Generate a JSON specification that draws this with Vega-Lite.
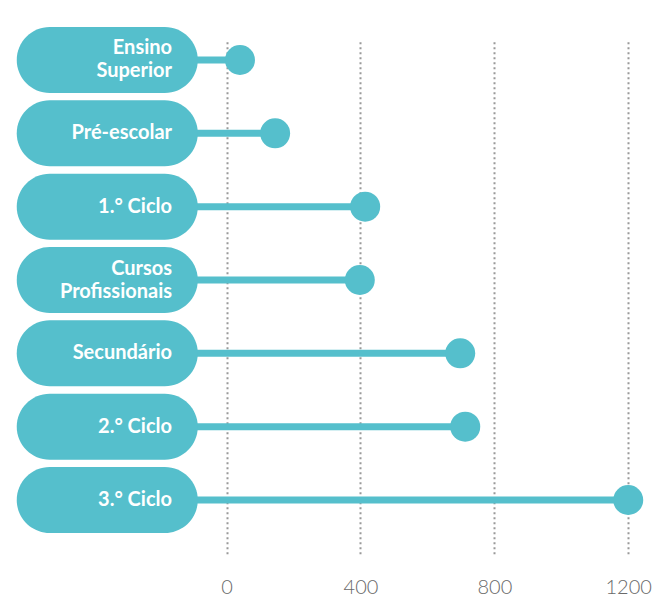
{
  "$schema": "https://vega.github.io/schema/vega-lite/v6.json",
  "width": 655,
  "height": 547,
  "autosize": "none",
  "padding": {"left": 0, "right": 0, "top": 15, "bottom": 35},
  "background": "white",
  "config": {"view": {"stroke": null}},
  "data": {
    "values": [
      {"level": "Ensino Superior", "label": "Ensino\nSuperior", "value": 40},
      {"level": "Pré-escolar", "label": "Pré-escolar", "value": 145},
      {"level": "1.° Ciclo", "label": "1.° Ciclo", "value": 414},
      {"level": "Cursos Profissionais", "label": "Cursos\nProfissionais", "value": 398},
      {"level": "Secundário", "label": "Secundário", "value": 698},
      {"level": "2.° Ciclo", "label": "2.° Ciclo", "value": 713},
      {"level": "3.° Ciclo", "label": "3.° Ciclo", "value": 1200}
    ]
  },
  "encoding": {
    "y": {
      "field": "level",
      "type": "nominal",
      "sort": ["Ensino Superior", "Pré-escolar", "1.° Ciclo", "Cursos Profissionais", "Secundário", "2.° Ciclo", "3.° Ciclo"],
      "scale": {"type": "band", "range": [8.33, 521.67], "paddingInner": 0, "paddingOuter": 0},
      "axis": null
    }
  },
  "layer": [
    {
      "mark": {"type": "rule", "strokeWidth": 7, "color": "#55bfcc"},
      "encoding": {
        "x": {
          "field": "value",
          "type": "quantitative",
          "scale": {"domain": [-677, 1280], "nice": false, "zero": false},
          "axis": {
            "values": [0, 400, 800, 1200],
            "format": "d",
            "title": null,
            "grid": true,
            "gridColor": "#999999",
            "gridDash": [2, 3],
            "gridWidth": 2,
            "domain": false,
            "ticks": false,
            "labelFont": "Lato",
            "labelFontWeight": 300,
            "labelFontSize": 20,
            "labelColor": "#6a6a6a",
            "labelPadding": 15,
            "labelFlush": false
          }
        },
        "x2": {"datum": -120}
      }
    },
    {
      "mark": {"type": "bar", "height": 66, "cornerRadius": 33, "color": "#55bfcc"},
      "encoding": {
        "x": {"datum": -627, "type": "quantitative"},
        "x2": {"datum": -86}
      }
    },
    {
      "mark": {"type": "point", "filled": true, "size": 900, "opacity": 1, "color": "#55bfcc"},
      "encoding": {
        "x": {"field": "value", "type": "quantitative"}
      }
    },
    {
      "transform": [{"filter": "!test(/\\n/, datum.label)"}],
      "mark": {"type": "text", "align": "right", "baseline": "middle", "font": "Lato", "fontWeight": "bold", "fontSize": 20, "color": "white"},
      "encoding": {
        "x": {"datum": -163, "type": "quantitative"},
        "text": {"field": "label"}
      }
    },
    {
      "transform": [{"filter": "test(/\\n/, datum.label)"}],
      "mark": {"type": "text", "align": "right", "baseline": "middle", "font": "Lato", "fontWeight": "bold", "fontSize": 20, "color": "white", "lineBreak": "\n", "lineHeight": 23, "dy": -11.5},
      "encoding": {
        "x": {"datum": -163, "type": "quantitative"},
        "text": {"field": "label"}
      }
    }
  ]
}
